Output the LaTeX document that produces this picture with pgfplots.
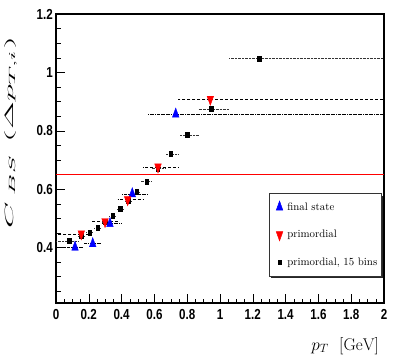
\documentclass[border=0pt]{standalone}
\usepackage{fontspec}
\usepackage{pgfplots}
\pgfplotsset{compat=1.18}
\usetikzlibrary{shadows}
\newfontfamily\tickfont[FakeStretch=0.8]{Liberation Sans}

\pgfplotsset{
  lgmark/.style={legend image code/.code={\path (-9pt,0pt); \draw[##1] plot coordinates {(0pt,0pt)};}},
}

\pgfplotstableread{
x     y      em     ep
0.116 0.401  0.116  0.054
0.224 0.413  0.054  0.056
0.329 0.482  0.049  0.071
0.465 0.584  0.065  0.095
0.730 0.857  0.170  1.270
}\finalstate

\pgfplotstableread{
x     y      em     ep
0.154 0.447  0.154  0.066
0.299 0.489  0.079  0.076
0.437 0.564  0.062  0.093
0.622 0.676  0.092  0.123
0.941 0.908  0.196  1.059
}\primordial

\pgfplotstableread{
x     y      em     ep
0.081 0.423  0.081  0.054
0.155 0.440  0.020  0.025
0.205 0.451  0.025  0.025
0.254 0.467  0.024  0.021
0.300 0.488  0.025  0.020
0.345 0.508  0.025  0.025
0.390 0.532  0.020  0.025
0.440 0.560  0.025  0.025
0.492 0.590  0.027  0.023
0.553 0.626  0.038  0.027
0.620 0.670  0.040  0.045
0.699 0.721  0.034  0.051
0.800 0.786  0.050  0.070
0.947 0.874  0.077  0.108
1.238 1.047  0.183  0.762
}\fifteenbins

\begin{document}
\begin{tikzpicture}
\path[use as bounding box] (-56pt,-51pt) rectangle (347pt,303pt);
\begin{axis}[
  scale only axis, width=328pt, height=289pt,
  xmin=0, xmax=2, ymin=0.21, ymax=1.2,
  xtick={0,0.2,0.4,0.6,0.8,1,1.2,1.4,1.6,1.8,2},
  ytick={0.4,0.6,0.8,1,1.2},
  minor xtick={0,0.05,...,2},
  minor ytick={0.25,0.3,0.35,0.45,0.5,0.55,0.65,0.7,0.75,0.85,0.9,0.95,1.05,1.1,1.15},
  xtick pos=bottom, ytick pos=left,
  tick align=inside,
  major tick length=9pt, minor tick length=4.5pt,
  tick style={black, line width=0.5pt},
  axis line style={line width=1.4pt},
  /pgf/number format/assume math mode=true,
  tick label style={font=\tickfont\bfseries\fontsize{14.5}{14.5}\selectfont},
  xticklabel style={inner sep=1pt, yshift=-5pt},
  yticklabel style={inner sep=1pt, xshift=-2pt},
  ylabel={\scalebox{2.85}[1]{$C_{\hspace{3pt}B\hspace{0.5pt}S}\hspace{4pt}(\Delta p_{T,i})$}},
  ylabel style={at={(axis description cs:-0.139,0.59)}, anchor=center, inner sep=0pt, font=\fontsize{13}{13}\selectfont},
  xlabel={$p_T\ \ \mathrm{[GeV]}$},
  xlabel style={at={(axis description cs:0.985,-0.118)}, anchor=north east, inner sep=0pt, font=\fontsize{17}{17}\selectfont},
  legend style={at={(axis description cs:0.991,0.0934)}, anchor=south east,
    draw=black!80, line width=0.5pt, fill=white,
    drop shadow={shadow xshift=2pt, shadow yshift=-2pt, fill=black!85, opacity=1},
    font=\fontsize{10.85}{12.5}\selectfont, row sep=14.5pt, inner xsep=1.5pt, inner ysep=7pt,
    /tikz/every odd column/.append style={column sep=2.5pt}},
  legend cell align=left,
]
\addplot[red, line width=0.6pt, forget plot] coordinates {(0,0.65)(2,0.65)};

\addplot[only marks, mark=square*, mark size=1.8pt, mark options={yscale=1.4}, black, forget plot,
  error bars/.cd, x dir=both, x explicit, error mark=none,
  error bar style={densely dotted, black!80, line width=0.5pt}]
  table[x=x, y=y, x error minus=em, x error plus=ep] {\fifteenbins};

\addplot[only marks, mark=triangle*, mark size=3.8pt, mark options={yscale=1.6}, blue, lgmark,
  error bars/.cd, x dir=both, x explicit, error mark=none,
  error bar style={densely dashdotted, black, line width=0.5pt}]
  table[x=x, y=y, x error minus=em, x error plus=ep] {\finalstate};
\addlegendentry{final state}

\addplot[only marks, mark=triangle*, mark size=3.8pt, mark options={rotate=180, yscale=1.6}, red, lgmark,
  error bars/.cd, x dir=both, x explicit, error mark=none,
  error bar style={densely dashed, black, line width=0.5pt}]
  table[x=x, y=y, x error minus=em, x error plus=ep] {\primordial};
\addlegendentry{primordial}

\addlegendimage{only marks, mark=square*, mark size=1.6pt, mark options={yscale=1.4}, black, lgmark}
\addlegendentry{primordial, 15 bins}
\end{axis}
\end{tikzpicture}
\end{document}
